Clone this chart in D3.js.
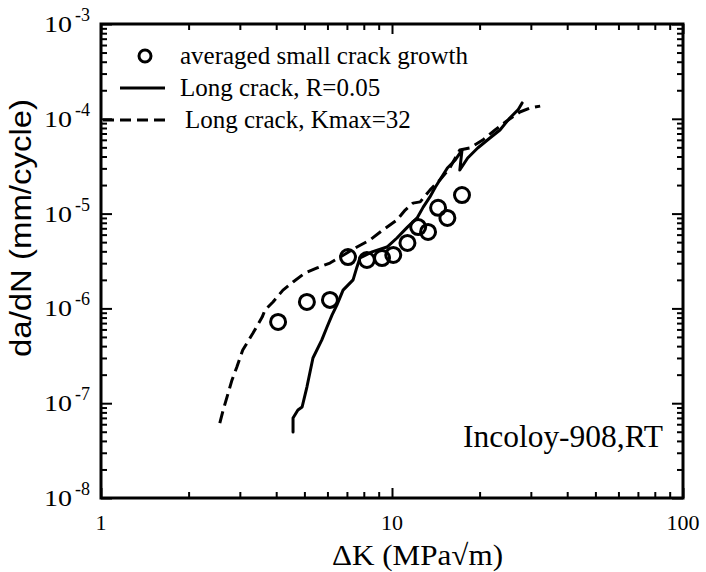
<!DOCTYPE html>
<html>
<head>
<meta charset="utf-8">
<script src="https://d3js.org/d3.v7.min.js"></script>
<style>
body, html {
    margin: 0;
    background: #fff;
}
.frame {
  fill: none;
  stroke: #000;
  stroke-width: 3;
}
.tick line {
  stroke: #000;
  stroke-width: 2;
}
.curve {
  fill: none;
  stroke: #000;
  stroke-width: 3;
  stroke-linejoin: round;
  stroke-linecap: round;
}
.serif {
  font-family: "Liberation Serif", "DejaVu Serif", serif;
  fill: #000;
}
</style>
</head>
<body>
<div id="chart"></div>
<script>

// averaged small crack growth (circles)
var smallK   = [4.06, 5.10, 6.12, 7.06, 8.20, 9.24, 10.1, 11.3, 12.3, 13.3, 14.4, 15.5, 17.4];
var smallDa  = [7.2e-7, 1.17e-6, 1.23e-6, 3.48e-6, 3.24e-6, 3.40e-6, 3.66e-6, 4.9e-6, 7.2e-6, 6.4e-6, 1.15e-5, 9.0e-6, 1.57e-5];

// long crack, R=0.05 (solid)
var longRK  = [4.57, 4.57, 4.75, 4.91, 5.10, 5.35, 5.74, 5.98, 6.22, 6.47, 6.79, 7.35, 7.58, 7.76, 8.54, 9.61, 10.4, 11.3, 12.2, 12.8, 13.5, 14.1, 14.6, 15.5, 16.5, 17.4, 17.1, 18.2, 19.7, 21.7, 23.5, 25.4, 27.1, 28.0];
var longRDa = [4.97e-8, 6.98e-8, 8.48e-8, 9.12e-8, 1.48e-7, 3.0e-7, 4.65e-7, 6.37e-7, 8.5e-7, 1.09e-6, 1.56e-6, 2.0e-6, 2.74e-6, 3.4e-6, 3.94e-6, 4.44e-6, 5.53e-6, 7.2e-6, 9.0e-6, 1.17e-5, 1.5e-5, 1.91e-5, 2.26e-5, 3.03e-5, 3.68e-5, 4.69e-5, 2.88e-5, 3.86e-5, 4.92e-5, 6.27e-5, 7.62e-5, 1.02e-4, 1.24e-4, 1.47e-4];

// long crack, Kmax=32 (dashed)
var longKK  = [2.56, 2.63, 2.71, 2.82, 2.93, 3.07, 3.33, 3.58, 3.66, 3.90, 4.22, 4.57, 5.02, 5.53, 6.12, 7.0, 7.58, 8.40, 9.31, 10.4, 11.1, 11.8, 12.5, 13.5, 14.6, 15.8, 17.1, 18.5, 20.5, 22.6, 24.8, 27.5, 29.8, 32.3];
var longKDa = [6.18e-8, 8.48e-8, 1.16e-7, 1.76e-7, 2.41e-7, 3.64e-7, 5.5e-7, 8.1e-7, 9.6e-7, 1.17e-6, 1.56e-6, 1.90e-6, 2.36e-6, 2.67e-6, 3.01e-6, 3.84e-6, 4.44e-6, 5.27e-6, 6.72e-6, 8.55e-6, 1.09e-5, 1.29e-5, 1.33e-5, 1.77e-5, 2.26e-5, 3.03e-5, 4.69e-5, 4.92e-5, 5.97e-5, 7.62e-5, 9.48e-5, 1.18e-4, 1.30e-4, 1.36e-4];

var xTicks = [1, 10, 100];
var xTickLabels = ["1", "10", "100"];
var yTicks = [1e-3, 1e-4, 1e-5, 1e-6, 1e-7, 1e-8];
var yExponents = ["-3", "-4", "-5", "-6", "-7", "-8"];

var legendLabels = ["averaged small crack growth", "Long crack, R=0.05", "Long crack, Kmax=32"];

var width = 706, height = 572;
var mLeft = 101, mRight = 683, mTop = 24, mBottom = 498;

var svg = d3.select('#chart').append('svg')
    .attr('width', width)
    .attr('height', height);

var x = d3.scaleLog().domain([1, 100]).range([mLeft, mRight]);
var y = d3.scaleLog().domain([1e-8, 1e-3]).range([mBottom, mTop]);

// minor tick values, 2..9 per decade
function minors(lo, hi) {
  var out = [];
  for (var p = lo; p < hi; p++) {
    for (var m = 2; m <= 9; m++) out.push(m * Math.pow(10, p));
  }
  return out;
}
var xMinor = minors(0, 2);
var yMinor = minors(-8, -3);

// axes, ticks drawn inward on all four sides
function addAxis(axis, tr) {
  var g = svg.append('g').attr('transform', tr).call(axis);
  g.select('.domain').remove();
  g.selectAll('text').remove();
  return g;
}
addAxis(d3.axisBottom(x).tickValues(xTicks).tickSize(-10), 'translate(0,' + mBottom + ')');
addAxis(d3.axisBottom(x).tickValues(xMinor).tickSize(-6), 'translate(0,' + mBottom + ')');
addAxis(d3.axisTop(x).tickValues(xTicks).tickSize(-10), 'translate(0,' + mTop + ')');
addAxis(d3.axisTop(x).tickValues(xMinor).tickSize(-6), 'translate(0,' + mTop + ')');
addAxis(d3.axisLeft(y).tickValues(yTicks).tickSize(-11), 'translate(' + mLeft + ',0)');
addAxis(d3.axisLeft(y).tickValues(yMinor).tickSize(-6), 'translate(' + mLeft + ',0)');
addAxis(d3.axisRight(y).tickValues(yTicks).tickSize(-11), 'translate(' + mRight + ',0)');
addAxis(d3.axisRight(y).tickValues(yMinor).tickSize(-6), 'translate(' + mRight + ',0)');

svg.append('rect')
  .attr('class', 'frame')
  .attr('x', mLeft).attr('y', mTop)
  .attr('width', mRight - mLeft).attr('height', mBottom - mTop);

// y tick labels with superscripts
svg.append('g').selectAll('text')
  .data(yTicks)
  .enter().append('text')
  .attr('class', 'serif')
  .attr('x', 44)
  .attr('y', function(d) { return y(d) + 8; })
  .attr('textLength', 28).attr('lengthAdjust', 'spacingAndGlyphs')
  .style('font-size', '24px')
  .text('10');
svg.append('g').selectAll('text')
  .data(yTicks)
  .enter().append('text')
  .attr('class', 'serif')
  .attr('x', 75)
  .attr('y', function(d) { return y(d) - 3; })
  .style('font-size', '18px')
  .text(function(d, i) { return yExponents[i]; });

// x tick labels
svg.append('g').selectAll('text')
  .data(xTicks)
  .enter().append('text')
  .attr('class', 'serif')
  .attr('x', function(d) { return x(d); })
  .attr('y', 530)
  .attr('text-anchor', 'middle')
  .style('font-size', '22px')
  .text(function(d, i) { return xTickLabels[i]; });

// axis titles
svg.append('text')
  .attr('class', 'serif')
  .attr('x', 332).attr('y', 565)
  .attr('textLength', 171).attr('lengthAdjust', 'spacingAndGlyphs')
  .style('font-size', '29px')
  .text('\u0394K (MPa\u221Am)');

svg.append('text')
  .attr('transform', 'translate(31,228) rotate(-90)')
  .attr('text-anchor', 'middle')
  .attr('textLength', 258).attr('lengthAdjust', 'spacingAndGlyphs')
  .style('font-family', 'Liberation Sans, Arial, sans-serif')
  .style('font-size', '29px')
  .text('da/dN (mm/cycle)');

svg.append('text')
  .attr('class', 'serif')
  .attr('x', 463).attr('y', 447)
  .attr('textLength', 200).attr('lengthAdjust', 'spacingAndGlyphs')
  .style('font-size', '31px')
  .text('Incoloy-908,RT');

// curves
var line = d3.line()
  .x(function(d) { return x(d[0]); })
  .y(function(d) { return y(d[1]); });

svg.append('path')
  .datum(d3.zip(longKK, longKDa))
  .attr('class', 'curve')
  .attr('stroke-dasharray', '12,6')
  .style('stroke-linecap', 'butt')
  .attr('d', line);

svg.append('path')
  .datum(d3.zip(longRK, longRDa))
  .attr('class', 'curve')
  .attr('d', line);

svg.append('g').selectAll('circle')
  .data(d3.zip(smallK, smallDa))
  .enter().append('circle')
  .attr('cx', function(d) { return x(d[0]); })
  .attr('cy', function(d) { return y(d[1]); })
  .attr('r', 7.5)
  .attr('fill', 'none')
  .attr('stroke', '#000')
  .attr('stroke-width', 3);

// legend
var legY = [56, 88, 120];
var lg = svg.append('g');
lg.append('circle')
  .attr('cx', 145).attr('cy', legY[0]).attr('r', 6)
  .attr('fill', 'none').attr('stroke', '#000').attr('stroke-width', 3);
lg.append('line')
  .attr('x1', 120).attr('x2', 165).attr('y1', legY[1]).attr('y2', legY[1])
  .attr('stroke', '#000').attr('stroke-width', 3);
lg.append('line')
  .attr('x1', 103).attr('x2', 170).attr('y1', legY[2]).attr('y2', legY[2])
  .attr('stroke', '#000').attr('stroke-width', 3)
  .attr('stroke-dasharray', '11,6');
lg.selectAll('text')
  .data(legendLabels)
  .enter().append('text')
  .attr('class', 'serif')
  .attr('x', function(d, i) { return i == 2 ? 185 : 180; })
  .attr('y', function(d, i) { return legY[i] + 8; })
  .style('font-size', '25px')
  .text(function(d) { return d; });

</script>
</body>
</html>
